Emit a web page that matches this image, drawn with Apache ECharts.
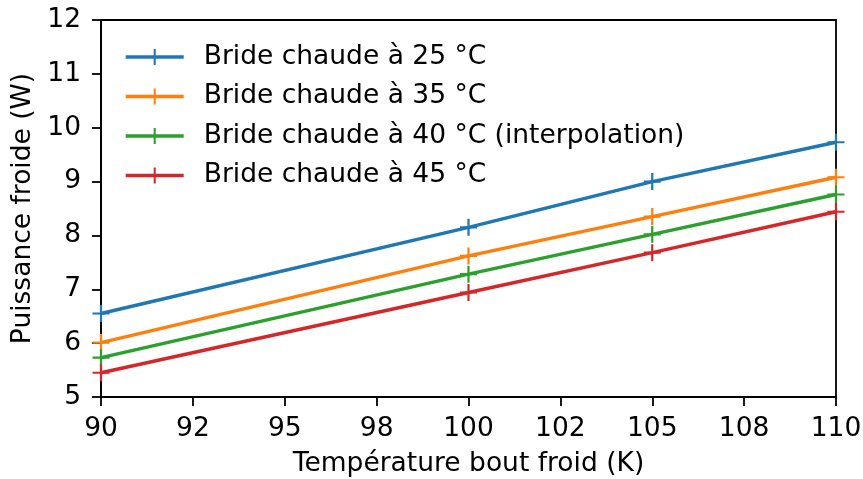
<!DOCTYPE html>
<html>
<head>
<meta charset="utf-8">
<script src="https://cdn.jsdelivr.net/npm/echarts@6/dist/echarts.min.js"></script>
<style>
  html, body { margin: 0; padding: 0; background: #fff; }
  #chart { width: 863px; height: 479px; }
</style>
</head>
<body>
<div id="chart"></div>
<script>
// Cold-end temperature (K) and cooling power (W) for each warm-flange temperature
const temperatures = [90, 100, 105, 110];
const power25 = [6.55, 8.15, 9.00, 9.73];
const power35 = [6.01, 7.62, 8.35, 9.08];
const power40 = [5.73, 7.28, 8.02, 8.76];
const power45 = [5.45, 6.94, 7.68, 8.44];

const seriesNames = [
  'Bride chaude à 25 °C',
  'Bride chaude à 35 °C',
  'Bride chaude à 40 °C (interpolation)',
  'Bride chaude à 45 °C'
];
const seriesColors = ['#1f77b4', '#ff7f0e', '#2ca02c', '#d62728'];
const seriesValues = [power25, power35, power40, power45];

const xTickLabels = ['90', '92', '95', '98', '100', '102', '105', '108', '110'];
const yTickLabels = ['5', '6', '7', '8', '9', '10', '11', '12'];

const FONT = 'DejaVu Sans';
const FS = 26.5;
const PLUS = 'path://M7.4,0H9.6V7.4H17V9.6H9.6V17H7.4V9.6H0V7.4H7.4Z';

const chart = echarts.init(document.getElementById('chart'), null, { renderer: 'canvas' });

const series = seriesNames.map((name, i) => ({
  name: name,
  type: 'line',
  data: temperatures.map((t, j) => [t, seriesValues[i][j]]),
  symbol: PLUS,
  symbolSize: 17,
  showAllSymbol: true,
  clip: true,
  lineStyle: { color: seriesColors[i], width: 3.4 },
  itemStyle: { color: seriesColors[i] },
  emphasis: { disabled: true },
  animation: false
}));

chart.setOption({
  animation: false,
  backgroundColor: '#fff',
  grid: {
    left: 101, right: 27, top: 20, bottom: 82,
    outerBoundsMode: 'none',
    containLabel: false,
    show: true, borderColor: '#000', borderWidth: 1.8, backgroundColor: 'transparent'
  },
  legend: {
    data: seriesNames,
    orient: 'vertical',
    left: 124,
    top: 43,
    padding: 0,
    itemWidth: 58,
    itemHeight: 20,
    itemGap: 11.5,
    lineStyle: { width: 3.4 },
    textStyle: {
      fontFamily: FONT, fontSize: FS, color: '#000',
      lineHeight: 28, padding: [0, 0, 0, 15]
    }
  },
  xAxis: {
    type: 'value',
    min: 90, max: 110, interval: 2.5,
    name: 'Température bout froid (K)',
    nameLocation: 'middle',
    nameGap: 54,
    nameTextStyle: { fontFamily: FONT, fontSize: FS, color: '#000' },
    axisLine: { show: true, lineStyle: { color: '#000', width: 1.8 } },
    axisTick: { show: true, length: 9, inside: false, lineStyle: { color: '#000', width: 1.8 } },
    axisLabel: {
      fontFamily: FONT, fontSize: FS, color: '#000', margin: 19,
      formatter: v => xTickLabels[Math.round((v - 90) / 2.5)]
    },
    splitLine: { show: false }
  },
  yAxis: {
    type: 'value',
    min: 5, max: 12, interval: 1,
    name: 'Puissance froide (W)',
    nameLocation: 'middle',
    nameGap: 62,
    nameRotate: 90,
    nameTextStyle: { fontFamily: FONT, fontSize: FS, color: '#000' },
    axisLine: { show: true, lineStyle: { color: '#000', width: 1.8 } },
    axisTick: { show: true, length: 9, inside: false, lineStyle: { color: '#000', width: 1.8 } },
    axisLabel: {
      fontFamily: FONT, fontSize: FS, color: '#000', margin: 20,
      formatter: v => yTickLabels[Math.round(v - 5)]
    },
    splitLine: { show: false }
  },
  series: series
});
</script>
</body>
</html>
